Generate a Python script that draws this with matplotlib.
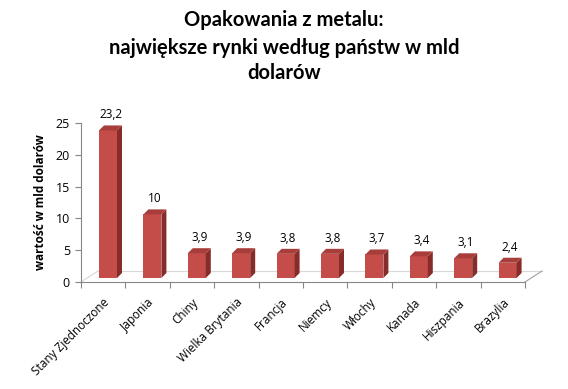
import matplotlib.pyplot as plt
from matplotlib.patches import Polygon

kraje = ["Stany Zjednoczone", "Japonia", "Chiny", "Wielka Brytania", "Francja",
         "Niemcy", "Włochy", "Kanada", "Hiszpania", "Brazylia"]
wartosci = [23.2, 10, 3.9, 3.9, 3.8, 3.8, 3.7, 3.4, 3.1, 2.4]
y_ticks = [0, 5, 10, 15, 20, 25]

W, H = 568, 389
fig = plt.figure(figsize=(W / 100, H / 100), dpi=100)
ax = fig.add_axes([81 / W, (H - 282) / H, 444 / W, 159 / H])
ax.set_xlim(-0.5, len(kraje) - 0.5)
ax.set_ylim(0, 25)

# pixel -> data helpers
px_x = (len(kraje)) / 444.0
px_y = 25 / 159.0

front = "#C44D4A"
side = "#862D2A"
top = "#A83E3B"
grid = "#868686"

# floor of the 3d box
fdx, fdy = 17 * px_x, 11 * px_y
x0, x1 = -0.5, len(kraje) - 0.5
ax.plot([x0 + fdx, x1 + fdx], [fdy, fdy], color="#D8D8D8", lw=0.8, clip_on=False, zorder=1)
ax.plot([x1, x1 + fdx], [0, fdy], color="#A0A0A0", lw=0.8, clip_on=False, zorder=1)
ax.plot([x0, x0 + fdx], [0, fdy], color="#D8D8D8", lw=0.8, clip_on=False, zorder=1)

base = 4 * px_y
bw = 18 * px_x
ddx, ddy = 5 * px_x, 5 * px_y
for i, v in enumerate(wartosci):
    left = i - 0.5 + 18 * px_x
    right = left + bw
    t = base + v
    ax.bar(left, v, width=bw, bottom=base, align="edge", color=front,
           edgecolor="none", zorder=3)
    ax.add_patch(Polygon([(right, base), (right + ddx, base + ddy),
                          (right + ddx, t + ddy), (right, t)],
                         closed=True, fc=side, ec="none", zorder=3, clip_on=False))
    ax.add_patch(Polygon([(left, t), (left + ddx, t + ddy),
                          (right + ddx, t + ddy), (right, t)],
                         closed=True, fc=top, ec="none", zorder=3, clip_on=False))
    lab = ("%g" % v).replace(".", ",")
    ax.text((left + right + ddx) / 2, t + ddy + 4 * px_y, lab, ha="center",
            va="bottom", fontsize=8.5, family="Open Sans", color="#000000")

for s in ["top", "right"]:
    ax.spines[s].set_visible(False)
for s in ["left", "bottom"]:
    ax.spines[s].set_color(grid)
    ax.spines[s].set_linewidth(0.8)

ax.set_yticks(y_ticks)
ax.set_yticklabels([str(v) for v in y_ticks], fontsize=9, family="Open Sans")
ax.tick_params(axis="y", length=4, color=grid, pad=4)
ax.set_xticks([i - 0.5 for i in range(len(kraje) + 1)])
ax.set_xticklabels([])
ax.tick_params(axis="x", length=4, color=grid)
for i, k in enumerate(kraje):
    ax.text(i + 0.1, -2.9, k, rotation=45, rotation_mode="anchor", ha="right",
            va="center", fontsize=8.5, family="Open Sans")

ax.set_ylabel("wartość w mld dolarów", fontsize=8.5, fontweight="bold",
              family="Open Sans", labelpad=6)

fig.text(0.5, 1 - 20 / H, "Opakowania z metalu:", ha="center", va="center",
         fontsize=14.5, fontweight="bold", family="Lato")
fig.text(0.5, 1 - 48 / H, "największe rynki według państw w mld", ha="center",
         va="center", fontsize=14.5, fontweight="bold", family="Lato")
fig.text(0.5, 1 - 73 / H, "dolarów", ha="center", va="center",
         fontsize=14.5, fontweight="bold", family="Lato")

fig.savefig("out.png", dpi=100)
